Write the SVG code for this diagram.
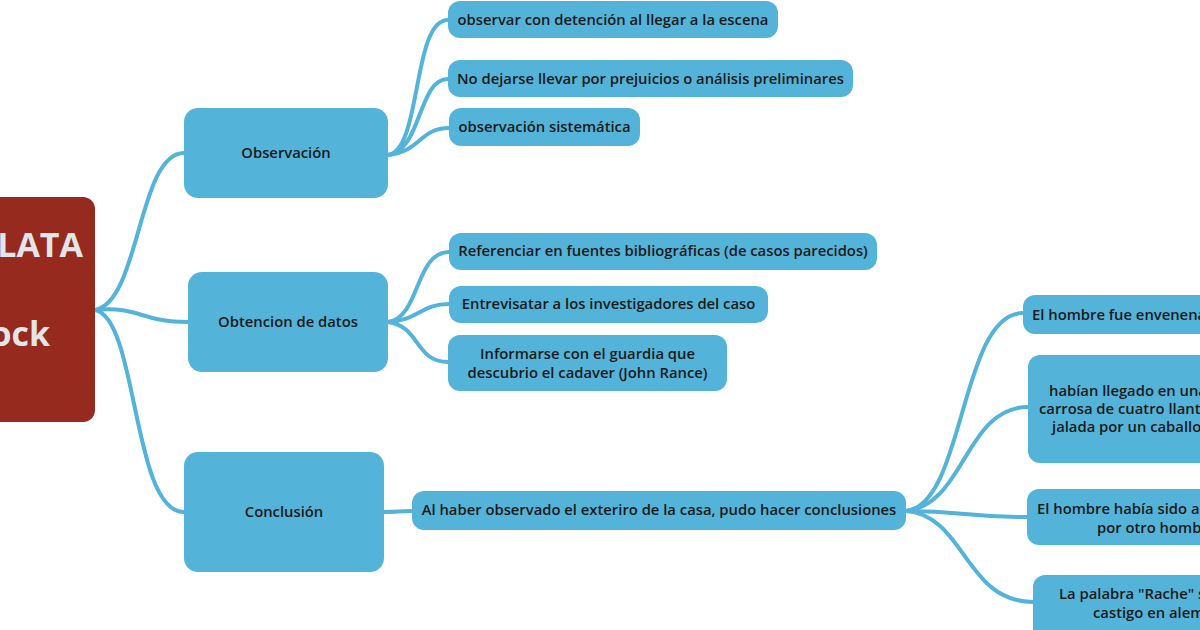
<svg xmlns="http://www.w3.org/2000/svg" width="1200" height="630" viewBox="0 0 1200 630">
<style>
.n{fill:#54b3d9;}
.t{font-family:"Open Sans","Noto Sans",sans-serif;font-size:14.8px;font-weight:600;fill:#1a1a1a;text-anchor:middle;}
.s{text-anchor:start;}
.r{font-family:"Open Sans","Noto Sans",sans-serif;font-size:34px;font-weight:700;fill:#e3e6e9;text-anchor:end;}
.c{fill:none;stroke:#54b3d9;stroke-width:4;stroke-linecap:round;}
</style>
<rect width="1200" height="630" fill="#ffffff"/>
<g id="connectors">
<path class="c" d="M95,310 C140,302 138,153 184,153"/>
<path class="c" d="M95,310 C140,306 140,322 188,322"/>
<path class="c" d="M95,310 C138,318 132,512 184,512"/>
<path class="c" d="M388,155 C422,150 412,20 448,20"/>
<path class="c" d="M388,155 C422,150 418,79 448,79"/>
<path class="c" d="M388,155 C420,152 420,128 449,128"/>
<path class="c" d="M388,322 C420,318 415,252 449,252"/>
<path class="c" d="M388,322 C420,320 420,304 449,304"/>
<path class="c" d="M388,322 C420,326 415,362 448,362"/>
<path class="c" d="M384,512 C398,512 398,511 412,511"/>
<path class="c" d="M906,511 C965,505 960,313 1023,313"/>
<path class="c" d="M906,511 C965,505 965,407 1028,407"/>
<path class="c" d="M906,511 C965,511 965,517 1027,517"/>
<path class="c" d="M906,511 C965,515 965,602 1033,602"/>
</g>
<g id="root">
<rect x="-20" y="197" width="115" height="225" rx="12" fill="#962a1e"/>
<text class="r" x="83" y="257">LATA</text>
<text class="r" x="50" y="346">ock</text>
</g>
<g id="observacion">
<rect class="n" x="184" y="108" width="204" height="90" rx="14"/>
<text class="t" x="286" y="158">Observación</text>
</g>
<g id="obtencion">
<rect class="n" x="188" y="272" width="200" height="100" rx="14"/>
<text class="t" x="288" y="327">Obtencion de datos</text>
</g>
<g id="conclusion">
<rect class="n" x="184" y="452" width="200" height="120" rx="14"/>
<text class="t" x="284" y="517">Conclusión</text>
</g>
<g id="obs1">
<rect class="n" x="448" y="1" width="330" height="37" rx="12"/>
<text class="t" x="613" y="25">observar con detención al llegar a la escena</text>
</g>
<g id="obs2">
<rect class="n" x="448" y="60" width="405" height="37" rx="12"/>
<text class="t" x="650.5" y="84">No dejarse llevar por prejuicios o análisis preliminares</text>
</g>
<g id="obs3">
<rect class="n" x="449" y="108" width="191" height="38" rx="12"/>
<text class="t" x="544.5" y="132">observación sistemática</text>
</g>
<g id="dat1">
<rect class="n" x="449" y="233" width="428" height="37" rx="12"/>
<text class="t" x="663" y="256">Referenciar en fuentes bibliográficas (de casos parecidos)</text>
</g>
<g id="dat2">
<rect class="n" x="449" y="286" width="319" height="37" rx="12"/>
<text class="t" x="608.5" y="309">Entrevisatar a los investigadores del caso</text>
</g>
<g id="dat3">
<rect class="n" x="448" y="335" width="279" height="56" rx="12"/>
<text class="t" x="587.5" y="359">Informarse con el guardia que</text>
<text class="t" x="587.5" y="378">descubrio el cadaver (John Rance)</text>
</g>
<g id="con1">
<rect class="n" x="412" y="491" width="494" height="39" rx="12"/>
<text class="t" x="659" y="515">Al haber observado el exteriro de la casa, pudo hacer conclusiones</text>
</g>
<g id="r1">
<rect class="n" x="1023" y="295" width="220" height="39" rx="12"/>
<text class="t s" x="1032" y="320">El hombre fue envenena</text>
</g>
<g id="r2">
<rect class="n" x="1028" y="355" width="220" height="108" rx="12"/>
<text class="t s" x="1049" y="396">habían llegado en una</text>
<text class="t s" x="1039" y="414">carrosa de cuatro llant</text>
<text class="t s" x="1052" y="432">jalada por un caballo</text>
</g>
<g id="r3">
<rect class="n" x="1027" y="489" width="220" height="56" rx="12"/>
<text class="t s" x="1037" y="514">El hombre había sido as</text>
<text class="t s" x="1097" y="533">por otro hombr</text>
</g>
<g id="r4">
<rect class="n" x="1033" y="575" width="220" height="70" rx="12"/>
<text class="t s" x="1059" y="599">La palabra "Rache" s</text>
<text class="t s" x="1093" y="618">castigo en alem</text>
</g>
</svg>
